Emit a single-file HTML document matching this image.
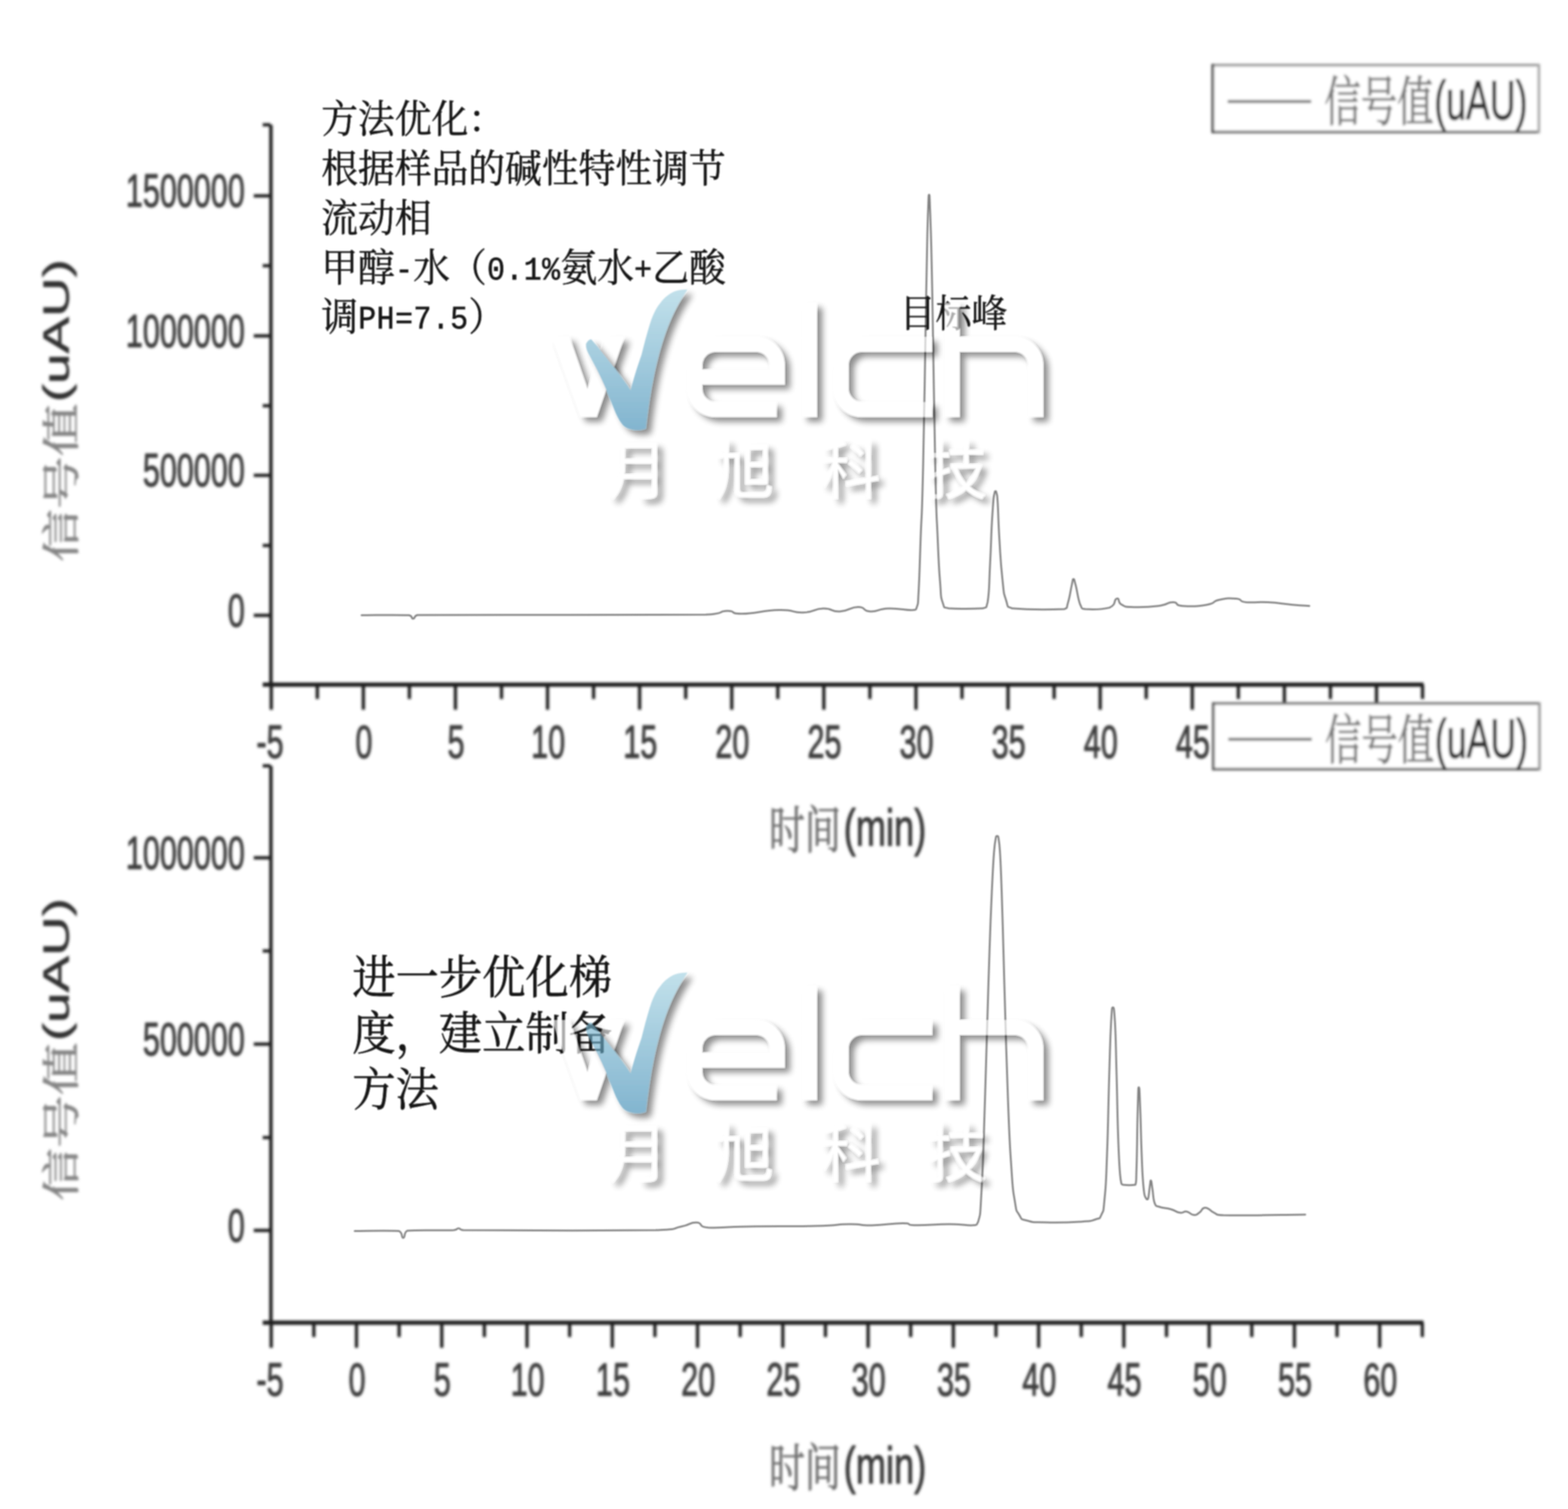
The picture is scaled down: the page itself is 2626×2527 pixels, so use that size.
<!DOCTYPE html><html><head><meta charset="utf-8"><title>chart</title><style>html,body{margin:0;padding:0;background:#fff}svg{display:block}</style></head><body><svg width="2626" height="2527" viewBox="0 0 2626 2527" role="img" aria-label="HPLC chromatograms"><desc>Two chromatograms: signal (uAU) versus time (min). Top: method optimisation, methanol-water (0.1% ammonia + acetic acid, pH=7.5), target peak near 31 min. Bottom: further optimised gradient for the preparative method, main peak near 37.5 min. Welch watermark.</desc><defs><filter id="bl1" x="-5%" y="-5%" width="110%" height="110%"><feGaussianBlur stdDeviation="2"/></filter><filter id="bl3" filterUnits="userSpaceOnUse" x="0" y="0" width="2626" height="2527"><feGaussianBlur stdDeviation="1.1"/></filter><filter id="bl2" x="-5%" y="-5%" width="110%" height="110%"><feGaussianBlur stdDeviation="0.9"/></filter><filter id="sh" x="-5%" y="-10%" width="112%" height="130%" color-interpolation-filters="sRGB"><feGaussianBlur in="SourceAlpha" stdDeviation="5.5" result="b"/><feOffset in="b" dx="9" dy="7.5" result="o"/><feComposite in="o" in2="SourceAlpha" operator="out" result="so"/><feComponentTransfer in="so" result="s"><feFuncA type="linear" slope="0.45"/></feComponentTransfer><feComponentTransfer in="SourceGraphic" result="g"><feFuncA type="linear" slope="0.64"/></feComponentTransfer><feMerge><feMergeNode in="s"/><feMergeNode in="g"/></feMerge></filter><filter id="sh2" x="-10%" y="-10%" width="130%" height="125%" color-interpolation-filters="sRGB"><feGaussianBlur in="SourceAlpha" stdDeviation="5.5" result="b"/><feOffset in="b" dx="9" dy="7.5" result="o"/><feComposite in="o" in2="SourceAlpha" operator="out" result="so"/><feComponentTransfer in="so" result="s"><feFuncA type="linear" slope="0.45"/></feComponentTransfer><feComponentTransfer in="SourceGraphic" result="g"><feFuncA type="linear" slope="0.64"/></feComponentTransfer><feMerge><feMergeNode in="s"/><feMergeNode in="g"/></feMerge></filter><linearGradient id="bl" x1="0" y1="0" x2="0" y2="1"><stop offset="0" stop-color="#a0d0e0"/><stop offset="1" stop-color="#3c8bb4"/></linearGradient><mask id="mv" maskUnits="userSpaceOnUse" x="0" y="0" width="2626" height="2527"><rect width="2626" height="2527" fill="#fff"/><path d="M981.5 1719.4 C985 1714 988 1711.5 990.5 1712.5 C1012 1738 1036 1768 1056.1 1797.4 C1062 1775 1068 1756 1074.5 1737.7 C1080 1716 1085 1697 1090.5 1680.3 C1095 1668 1100 1658 1106.6 1650.5 C1113 1642 1121 1636 1129.6 1632.1 C1137 1629.3 1144 1628.5 1151.4 1628.7 C1138 1648 1127 1669 1118.1 1691.8 C1108 1718 1101 1745 1095.1 1772.2 C1089 1801 1085 1831 1081.4 1861.7 C1076 1863.5 1071 1864.3 1065.3 1864 C1055 1863.5 1047 1860.5 1042.3 1854.8 C1036 1847 1032 1838 1028.6 1829.6 C1016 1796 1000 1762 985 1735 C982 1729 981 1724 981.5 1719.4 Z" fill="#000"/></mask></defs><rect width="2626" height="2527" fill="#fff"/><g filter="url(#bl1)"><rect x="450.9" y="209" width="5.6" height="937.5" fill="#1c1c1c"/><rect x="440" y="1143" width="1944" height="7" fill="#1c1c1c"/><rect x="425" y="325.3" width="28" height="5.4" fill="#1c1c1c"/><rect x="425" y="559.8" width="28" height="5.4" fill="#1c1c1c"/><rect x="425" y="793.3" width="28" height="5.4" fill="#1c1c1c"/><rect x="425" y="1027.8" width="28" height="5.4" fill="#1c1c1c"/><rect x="440" y="206.3" width="13" height="5.4" fill="#1c1c1c"/><rect x="440" y="442.3" width="13" height="5.4" fill="#1c1c1c"/><rect x="440" y="676.8" width="13" height="5.4" fill="#1c1c1c"/><rect x="440" y="910.8" width="13" height="5.4" fill="#1c1c1c"/><rect x="451.6" y="1146.5" width="5.4" height="42" fill="#1c1c1c"/><rect x="528.7" y="1146.5" width="5.4" height="24" fill="#1c1c1c"/><rect x="605.8" y="1146.5" width="5.4" height="42" fill="#1c1c1c"/><rect x="682.9" y="1146.5" width="5.4" height="24" fill="#1c1c1c"/><rect x="760" y="1146.5" width="5.4" height="42" fill="#1c1c1c"/><rect x="837.2" y="1146.5" width="5.4" height="24" fill="#1c1c1c"/><rect x="914.3" y="1146.5" width="5.4" height="42" fill="#1c1c1c"/><rect x="991.4" y="1146.5" width="5.4" height="24" fill="#1c1c1c"/><rect x="1068.5" y="1146.5" width="5.4" height="42" fill="#1c1c1c"/><rect x="1145.7" y="1146.5" width="5.4" height="24" fill="#1c1c1c"/><rect x="1222.8" y="1146.5" width="5.4" height="42" fill="#1c1c1c"/><rect x="1299.9" y="1146.5" width="5.4" height="24" fill="#1c1c1c"/><rect x="1377" y="1146.5" width="5.4" height="42" fill="#1c1c1c"/><rect x="1454.2" y="1146.5" width="5.4" height="24" fill="#1c1c1c"/><rect x="1531.3" y="1146.5" width="5.4" height="42" fill="#1c1c1c"/><rect x="1608.4" y="1146.5" width="5.4" height="24" fill="#1c1c1c"/><rect x="1685.5" y="1146.5" width="5.4" height="42" fill="#1c1c1c"/><rect x="1762.7" y="1146.5" width="5.4" height="24" fill="#1c1c1c"/><rect x="1839.8" y="1146.5" width="5.4" height="42" fill="#1c1c1c"/><rect x="1916.9" y="1146.5" width="5.4" height="24" fill="#1c1c1c"/><rect x="1994" y="1146.5" width="5.4" height="42" fill="#1c1c1c"/><rect x="2071.2" y="1146.5" width="5.4" height="24" fill="#1c1c1c"/><rect x="2148.3" y="1146.5" width="5.4" height="42" fill="#1c1c1c"/><rect x="2225.4" y="1146.5" width="5.4" height="24" fill="#1c1c1c"/><rect x="2302.6" y="1146.5" width="5.4" height="42" fill="#1c1c1c"/><rect x="2379.7" y="1146.5" width="5.4" height="24" fill="#1c1c1c"/><text transform="translate(410 346) scale(0.665 1)" font-family="'Liberation Sans', sans-serif" font-size="77" fill="#3d3d3d" text-anchor="end" stroke="#3d3d3d" stroke-width="1.6" stroke-linejoin="round">1500000</text><text transform="translate(410 580.5) scale(0.665 1)" font-family="'Liberation Sans', sans-serif" font-size="77" fill="#3d3d3d" text-anchor="end" stroke="#3d3d3d" stroke-width="1.6" stroke-linejoin="round">1000000</text><text transform="translate(410 814) scale(0.665 1)" font-family="'Liberation Sans', sans-serif" font-size="77" fill="#3d3d3d" text-anchor="end" stroke="#3d3d3d" stroke-width="1.6" stroke-linejoin="round">500000</text><text transform="translate(410 1048.5) scale(0.665 1)" font-family="'Liberation Sans', sans-serif" font-size="77" fill="#3d3d3d" text-anchor="end" stroke="#3d3d3d" stroke-width="1.6" stroke-linejoin="round">0</text><text transform="translate(452.2 1269) scale(0.665 1)" font-family="'Liberation Sans', sans-serif" font-size="77" fill="#3d3d3d" text-anchor="middle" stroke="#3d3d3d" stroke-width="1.6" stroke-linejoin="round">-5</text><text transform="translate(609.5 1269) scale(0.665 1)" font-family="'Liberation Sans', sans-serif" font-size="77" fill="#3d3d3d" text-anchor="middle" stroke="#3d3d3d" stroke-width="1.6" stroke-linejoin="round">0</text><text transform="translate(763.8 1269) scale(0.665 1)" font-family="'Liberation Sans', sans-serif" font-size="77" fill="#3d3d3d" text-anchor="middle" stroke="#3d3d3d" stroke-width="1.6" stroke-linejoin="round">5</text><text transform="translate(918 1269) scale(0.665 1)" font-family="'Liberation Sans', sans-serif" font-size="77" fill="#3d3d3d" text-anchor="middle" stroke="#3d3d3d" stroke-width="1.6" stroke-linejoin="round">10</text><text transform="translate(1072.2 1269) scale(0.665 1)" font-family="'Liberation Sans', sans-serif" font-size="77" fill="#3d3d3d" text-anchor="middle" stroke="#3d3d3d" stroke-width="1.6" stroke-linejoin="round">15</text><text transform="translate(1226.5 1269) scale(0.665 1)" font-family="'Liberation Sans', sans-serif" font-size="77" fill="#3d3d3d" text-anchor="middle" stroke="#3d3d3d" stroke-width="1.6" stroke-linejoin="round">20</text><text transform="translate(1380.8 1269) scale(0.665 1)" font-family="'Liberation Sans', sans-serif" font-size="77" fill="#3d3d3d" text-anchor="middle" stroke="#3d3d3d" stroke-width="1.6" stroke-linejoin="round">25</text><text transform="translate(1535 1269) scale(0.665 1)" font-family="'Liberation Sans', sans-serif" font-size="77" fill="#3d3d3d" text-anchor="middle" stroke="#3d3d3d" stroke-width="1.6" stroke-linejoin="round">30</text><text transform="translate(1689.2 1269) scale(0.665 1)" font-family="'Liberation Sans', sans-serif" font-size="77" fill="#3d3d3d" text-anchor="middle" stroke="#3d3d3d" stroke-width="1.6" stroke-linejoin="round">35</text><text transform="translate(1843.5 1269) scale(0.665 1)" font-family="'Liberation Sans', sans-serif" font-size="77" fill="#3d3d3d" text-anchor="middle" stroke="#3d3d3d" stroke-width="1.6" stroke-linejoin="round">40</text><text transform="translate(1997.8 1269) scale(0.665 1)" font-family="'Liberation Sans', sans-serif" font-size="77" fill="#3d3d3d" text-anchor="middle" stroke="#3d3d3d" stroke-width="1.6" stroke-linejoin="round">45</text><text transform="translate(1288 1420.7) scale(0.698 1)" font-family="'Liberation Serif', 'Noto Serif CJK SC', serif" font-size="86" fill="#6e6e6e" stroke="#6e6e6e" stroke-width="1.2" stroke-linejoin="round" text-anchor="start">时间</text><text transform="translate(1413 1416) scale(0.690 1)" font-family="'Liberation Sans', sans-serif" font-size="88" fill="#3a3a3a" text-anchor="start" stroke="#3a3a3a" stroke-width="1.6" stroke-linejoin="round">(min)</text><g transform="translate(123 941) rotate(-90)"><text transform="translate(0 1.8) scale(1.383 1)" font-family="'Liberation Serif', 'Noto Serif CJK SC', serif" font-size="64" fill="#858585" stroke="#858585" stroke-width="1" stroke-linejoin="round" text-anchor="start">信号值</text><text transform="translate(267.5 -8) scale(1.480 1)" font-family="'Liberation Sans', sans-serif" font-size="62" fill="#333" text-anchor="start" stroke="#333" stroke-width="0.9" stroke-linejoin="round">(uAU)</text></g><rect x="2029" y="107" width="550" height="116" fill="#fff"/><rect x="2029" y="106.8" width="550" height="4.5" fill="#9a9a9a"/><rect x="2029" y="218.8" width="550" height="4.5" fill="#707070"/><rect x="2574.8" y="107" width="4.5" height="116" fill="#a8a8a8"/><rect x="2028.8" y="107" width="4.5" height="116" fill="#4a4a4a"/><rect x="2056" y="167.7" width="140" height="4.6" fill="#676767"/><text transform="translate(2218 202.2) scale(0.678 1)" font-family="'Liberation Serif', 'Noto Serif CJK SC', serif" font-size="90" fill="#7c7c7c" stroke="#7c7c7c" stroke-width="1.5" stroke-linejoin="round" text-anchor="start">信号值</text><text transform="translate(2402 200) scale(0.650 1)" font-family="'Liberation Sans', sans-serif" font-size="92" fill="#333" text-anchor="start" stroke="#333" stroke-width="1.6" stroke-linejoin="round">(uAU)</text></g><g filter="url(#bl1)"><rect x="2030" y="1176" width="550" height="114" fill="#fff"/><rect x="2030" y="1175.8" width="550" height="4.5" fill="#7a7a7a"/><rect x="2030" y="1285.8" width="550" height="4.5" fill="#6a6a6a"/><rect x="2575.8" y="1176" width="4.5" height="114" fill="#9a9a9a"/><rect x="2029.8" y="1176" width="4.5" height="114" fill="#5a5a5a"/><rect x="2057" y="1235.7" width="140" height="4.6" fill="#676767"/><text transform="translate(2219 1271.2) scale(0.678 1)" font-family="'Liberation Serif', 'Noto Serif CJK SC', serif" font-size="90" fill="#7c7c7c" stroke="#7c7c7c" stroke-width="1.5" stroke-linejoin="round" text-anchor="start">信号值</text><text transform="translate(2403 1269) scale(0.650 1)" font-family="'Liberation Sans', sans-serif" font-size="92" fill="#333" text-anchor="start" stroke="#333" stroke-width="1.6" stroke-linejoin="round">(uAU)</text></g><g filter="url(#bl1)"><rect x="450.9" y="1282.5" width="5.6" height="932.5" fill="#1c1c1c"/><rect x="440" y="2211.5" width="1944" height="7" fill="#1c1c1c"/><rect x="425" y="1433.8" width="28" height="5.4" fill="#1c1c1c"/><rect x="425" y="1745.8" width="28" height="5.4" fill="#1c1c1c"/><rect x="425" y="2057.8" width="28" height="5.4" fill="#1c1c1c"/><rect x="440" y="1279.8" width="13" height="5.4" fill="#1c1c1c"/><rect x="440" y="1589.8" width="13" height="5.4" fill="#1c1c1c"/><rect x="440" y="1902.3" width="13" height="5.4" fill="#1c1c1c"/><rect x="451.5" y="2215" width="5.4" height="42" fill="#1c1c1c"/><rect x="522.9" y="2215" width="5.4" height="24" fill="#1c1c1c"/><rect x="594.3" y="2215" width="5.4" height="42" fill="#1c1c1c"/><rect x="665.7" y="2215" width="5.4" height="24" fill="#1c1c1c"/><rect x="737.1" y="2215" width="5.4" height="42" fill="#1c1c1c"/><rect x="808.5" y="2215" width="5.4" height="24" fill="#1c1c1c"/><rect x="879.9" y="2215" width="5.4" height="42" fill="#1c1c1c"/><rect x="951.3" y="2215" width="5.4" height="24" fill="#1c1c1c"/><rect x="1022.7" y="2215" width="5.4" height="42" fill="#1c1c1c"/><rect x="1094.1" y="2215" width="5.4" height="24" fill="#1c1c1c"/><rect x="1165.5" y="2215" width="5.4" height="42" fill="#1c1c1c"/><rect x="1236.9" y="2215" width="5.4" height="24" fill="#1c1c1c"/><rect x="1308.3" y="2215" width="5.4" height="42" fill="#1c1c1c"/><rect x="1379.7" y="2215" width="5.4" height="24" fill="#1c1c1c"/><rect x="1451.1" y="2215" width="5.4" height="42" fill="#1c1c1c"/><rect x="1522.5" y="2215" width="5.4" height="24" fill="#1c1c1c"/><rect x="1593.9" y="2215" width="5.4" height="42" fill="#1c1c1c"/><rect x="1665.3" y="2215" width="5.4" height="24" fill="#1c1c1c"/><rect x="1736.7" y="2215" width="5.4" height="42" fill="#1c1c1c"/><rect x="1808.1" y="2215" width="5.4" height="24" fill="#1c1c1c"/><rect x="1879.5" y="2215" width="5.4" height="42" fill="#1c1c1c"/><rect x="1950.9" y="2215" width="5.4" height="24" fill="#1c1c1c"/><rect x="2022.3" y="2215" width="5.4" height="42" fill="#1c1c1c"/><rect x="2093.7" y="2215" width="5.4" height="24" fill="#1c1c1c"/><rect x="2165.1" y="2215" width="5.4" height="42" fill="#1c1c1c"/><rect x="2236.5" y="2215" width="5.4" height="24" fill="#1c1c1c"/><rect x="2307.9" y="2215" width="5.4" height="42" fill="#1c1c1c"/><rect x="2379.3" y="2215" width="5.4" height="24" fill="#1c1c1c"/><text transform="translate(410 1454.5) scale(0.665 1)" font-family="'Liberation Sans', sans-serif" font-size="77" fill="#3d3d3d" text-anchor="end" stroke="#3d3d3d" stroke-width="1.6" stroke-linejoin="round">1000000</text><text transform="translate(410 1766.5) scale(0.665 1)" font-family="'Liberation Sans', sans-serif" font-size="77" fill="#3d3d3d" text-anchor="end" stroke="#3d3d3d" stroke-width="1.6" stroke-linejoin="round">500000</text><text transform="translate(410 2078.5) scale(0.665 1)" font-family="'Liberation Sans', sans-serif" font-size="77" fill="#3d3d3d" text-anchor="end" stroke="#3d3d3d" stroke-width="1.6" stroke-linejoin="round">0</text><text transform="translate(452.2 2337) scale(0.665 1)" font-family="'Liberation Sans', sans-serif" font-size="77" fill="#3d3d3d" text-anchor="middle" stroke="#3d3d3d" stroke-width="1.6" stroke-linejoin="round">-5</text><text transform="translate(598 2337) scale(0.665 1)" font-family="'Liberation Sans', sans-serif" font-size="77" fill="#3d3d3d" text-anchor="middle" stroke="#3d3d3d" stroke-width="1.6" stroke-linejoin="round">0</text><text transform="translate(740.8 2337) scale(0.665 1)" font-family="'Liberation Sans', sans-serif" font-size="77" fill="#3d3d3d" text-anchor="middle" stroke="#3d3d3d" stroke-width="1.6" stroke-linejoin="round">5</text><text transform="translate(883.6 2337) scale(0.665 1)" font-family="'Liberation Sans', sans-serif" font-size="77" fill="#3d3d3d" text-anchor="middle" stroke="#3d3d3d" stroke-width="1.6" stroke-linejoin="round">10</text><text transform="translate(1026.4 2337) scale(0.665 1)" font-family="'Liberation Sans', sans-serif" font-size="77" fill="#3d3d3d" text-anchor="middle" stroke="#3d3d3d" stroke-width="1.6" stroke-linejoin="round">15</text><text transform="translate(1169.2 2337) scale(0.665 1)" font-family="'Liberation Sans', sans-serif" font-size="77" fill="#3d3d3d" text-anchor="middle" stroke="#3d3d3d" stroke-width="1.6" stroke-linejoin="round">20</text><text transform="translate(1312 2337) scale(0.665 1)" font-family="'Liberation Sans', sans-serif" font-size="77" fill="#3d3d3d" text-anchor="middle" stroke="#3d3d3d" stroke-width="1.6" stroke-linejoin="round">25</text><text transform="translate(1454.8 2337) scale(0.665 1)" font-family="'Liberation Sans', sans-serif" font-size="77" fill="#3d3d3d" text-anchor="middle" stroke="#3d3d3d" stroke-width="1.6" stroke-linejoin="round">30</text><text transform="translate(1597.6 2337) scale(0.665 1)" font-family="'Liberation Sans', sans-serif" font-size="77" fill="#3d3d3d" text-anchor="middle" stroke="#3d3d3d" stroke-width="1.6" stroke-linejoin="round">35</text><text transform="translate(1740.4 2337) scale(0.665 1)" font-family="'Liberation Sans', sans-serif" font-size="77" fill="#3d3d3d" text-anchor="middle" stroke="#3d3d3d" stroke-width="1.6" stroke-linejoin="round">40</text><text transform="translate(1883.2 2337) scale(0.665 1)" font-family="'Liberation Sans', sans-serif" font-size="77" fill="#3d3d3d" text-anchor="middle" stroke="#3d3d3d" stroke-width="1.6" stroke-linejoin="round">45</text><text transform="translate(2026 2337) scale(0.665 1)" font-family="'Liberation Sans', sans-serif" font-size="77" fill="#3d3d3d" text-anchor="middle" stroke="#3d3d3d" stroke-width="1.6" stroke-linejoin="round">50</text><text transform="translate(2168.8 2337) scale(0.665 1)" font-family="'Liberation Sans', sans-serif" font-size="77" fill="#3d3d3d" text-anchor="middle" stroke="#3d3d3d" stroke-width="1.6" stroke-linejoin="round">55</text><text transform="translate(2311.6 2337) scale(0.665 1)" font-family="'Liberation Sans', sans-serif" font-size="77" fill="#3d3d3d" text-anchor="middle" stroke="#3d3d3d" stroke-width="1.6" stroke-linejoin="round">60</text><text transform="translate(1288 2488.7) scale(0.698 1)" font-family="'Liberation Serif', 'Noto Serif CJK SC', serif" font-size="86" fill="#6e6e6e" stroke="#6e6e6e" stroke-width="1.2" stroke-linejoin="round" text-anchor="start">时间</text><text transform="translate(1413 2484) scale(0.690 1)" font-family="'Liberation Sans', sans-serif" font-size="88" fill="#3a3a3a" text-anchor="start" stroke="#3a3a3a" stroke-width="1.6" stroke-linejoin="round">(min)</text><g transform="translate(123 2011) rotate(-90)"><text transform="translate(0 1.8) scale(1.383 1)" font-family="'Liberation Serif', 'Noto Serif CJK SC', serif" font-size="64" fill="#858585" stroke="#858585" stroke-width="1" stroke-linejoin="round" text-anchor="start">信号值</text><text transform="translate(267.5 -8) scale(1.480 1)" font-family="'Liberation Sans', sans-serif" font-size="62" fill="#333" text-anchor="start" stroke="#333" stroke-width="0.9" stroke-linejoin="round">(uAU)</text></g></g><g filter="url(#bl2)"><path d="M605.5 1030.3 C627.8 1030.3 660.8 1029.3 685 1030.3 C692 1031.9 688.1 1036.1 692 1036 C695.9 1035.9 692 1031.9 699 1030 C836.2 1028.3 1036.7 1031 1182 1029.3 C1217.8 1027.3 1200.7 1023.4 1217.8 1023 C1234.9 1022.6 1218.7 1028.2 1243 1027.8 C1267.3 1027.4 1275.9 1022.2 1304.5 1021.6 C1333.1 1021 1324.3 1026.4 1345 1025.7 C1365.7 1025 1361.3 1019.5 1378.5 1019 C1395.7 1018.5 1390.1 1024.7 1406.5 1024 C1422.9 1023.3 1422.7 1016.5 1437 1016.5 C1451.3 1016.5 1443.2 1023.3 1457.5 1024 C1471.8 1024.7 1468 1019.7 1488 1019 C1508 1018.3 1515.6 1022.4 1529 1021.6 C1535.7 1020.8 1533 1022.6 1535.7 1016 C1538.4 1007.2 1536.8 1017 1538.5 990 C1540.2 958.2 1539.7 961.2 1541.8 902.4 C1543.9 843.6 1543.4 892.7 1546 780 C1548.6 667.3 1548.8 617.6 1551 500 C1553.2 382.4 1552.6 408.7 1554 360 C1555.4 325 1554.9 326 1556 326 C1557.1 326 1556.5 325 1558 360 C1559.5 408.7 1559.2 382.4 1561.5 500 C1563.8 617.6 1563.8 667.4 1566.3 780 C1568.8 892.6 1568.1 847.1 1570.4 902 C1572.7 956.9 1572.2 946.2 1574.5 976 C1576.8 1005.8 1574.6 996.6 1578.6 1008.6 C1582.6 1019.8 1578.6 1015.9 1588.8 1018.8 C1607.7 1019.8 1627.7 1019.8 1646 1018.8 C1654 1015.9 1650.6 1019.8 1654 1008.6 C1657.4 987.4 1656 984.2 1658.2 943 C1660.4 901.8 1659.7 895.2 1662 861.6 C1664.3 828 1664.1 831.7 1666.3 822.9 C1668.5 821.9 1667.9 821.9 1670 830 C1672.1 852.3 1671.3 863.8 1673.7 902.4 C1676.1 941 1675.5 939.2 1678.6 967.8 C1681.7 996.4 1680.1 990.2 1684.7 1004.5 C1689.3 1018.8 1684.7 1014.5 1694.9 1018.8 C1722.3 1021 1756.4 1021 1782.7 1020 C1788.8 1017.1 1785.4 1019.8 1788.8 1008.6 C1792.2 997.4 1792.4 990.9 1794.9 980 C1797.4 969.1 1796 969.8 1797.8 969.8 C1799.6 969.8 1798.3 968.8 1801.5 980 C1804.7 992 1804.8 1001.5 1809.2 1012.7 C1813.6 1021 1809.2 1018.6 1817.3 1020 C1831 1021 1843.1 1021 1858 1017.6 C1870.4 1012.7 1864.6 1003.8 1870.4 1002.4 C1876.2 1001.4 1870.6 1008.7 1878.6 1012.7 C1886.6 1016.7 1881.9 1016.1 1899 1016.7 C1916.1 1017.3 1921.5 1017 1939.8 1014.7 C1958.1 1012.4 1952.9 1008.6 1964.3 1008.6 C1975.7 1008.6 1964.6 1013.6 1980.6 1014.7 C1996.6 1015.7 2004.3 1015.6 2021.4 1012.7 C2038.5 1009.8 2028.1 1007.4 2041.8 1004.5 C2055.5 1001.6 2057.8 1001.4 2070.4 1002.4 C2083 1003.5 2072 1006.9 2086.7 1008.6 C2101.4 1009.6 2101.3 1007.6 2123 1008.6 C2144.7 1009.7 2144.7 1011 2164.3 1012.7 C2183.9 1014.4 2184.9 1014.1 2192.9 1014.7" fill="none" stroke="#808080" stroke-width="3.0" stroke-linejoin="round" stroke-linecap="round"/><path d="M594 2061.4 C614.7 2061.4 645.2 2060.4 668 2061.4 C675.4 2064.6 671.5 2073.1 675.4 2073 C679.3 2072.9 675.4 2064.6 682 2061 C705.7 2059 735.9 2061.1 760 2060 C768 2058.9 763.5 2057 768 2057 C772.5 2057 768 2059.2 776 2060 C869.5 2060.8 999.8 2061 1102 2060 C1141 2058.3 1123 2057.6 1141 2054 C1159 2050.4 1153.8 2046.8 1166.4 2047.3 C1179 2047.8 1166.4 2053.9 1186 2055.8 C1210.4 2056.8 1203.1 2054.8 1253.4 2054 C1303.7 2053.2 1318.5 2054.1 1365.6 2053 C1412.7 2051.9 1395.3 2050.3 1421.7 2050 C1448.1 2049.7 1434.9 2052.4 1460 2052 C1485.1 2051.6 1490.8 2048.6 1511.5 2048.5 C1532.2 2048.4 1512 2051.4 1534 2051.8 C1556 2052.2 1563.3 2050 1590 2050 C1616.7 2050 1615.9 2052.8 1629.4 2051.8 C1638.2 2050.7 1634.1 2052.8 1638.2 2046 C1642.3 2028.9 1640.8 2047 1644 1990.7 C1647.2 1932.5 1646.5 1934.2 1649.7 1838 C1652.9 1741.8 1652.2 1743.2 1655.4 1647 C1658.6 1550.8 1658 1559.7 1661 1494.5 C1664 1429.3 1663.5 1440.5 1666 1414 C1668.5 1399 1667.8 1400 1670 1400 C1672.2 1400 1671.6 1399 1673.7 1414 C1675.8 1440.5 1675.3 1429.3 1677.6 1494.5 C1679.9 1559.7 1679.1 1550.8 1682 1647 C1684.9 1743.2 1684.8 1752.5 1688 1838 C1691.2 1923.5 1690.4 1904.4 1693.6 1952.5 C1696.8 2000.6 1695.5 1986.8 1699.3 2009.8 C1703.1 2032.8 1701.2 2025 1707 2034.6 C1712.8 2044.2 1707.7 2040.5 1720 2044 C1732.3 2047.5 1726.4 2046.4 1751 2047 C1775.6 2047.6 1784.5 2047.4 1808 2046 C1831.5 2044.6 1824.6 2045.2 1834.8 2042 C1844.4 2038.8 1840.1 2043 1844.4 2034.6 C1848.7 2024.5 1847.3 2034.3 1850 2006 C1852.7 1977.7 1851.8 1991.1 1854 1933.4 C1856.2 1875.7 1855.8 1862 1857.7 1800 C1859.6 1738 1859.1 1743.6 1860.8 1712 C1862.5 1686 1862 1687 1863.8 1687 C1865.6 1687 1865.6 1686 1867.3 1712 C1869 1743.6 1868.4 1743.4 1870 1800 C1871.6 1856.6 1871.1 1864.9 1873 1914 C1874.9 1963.1 1874.7 1955.8 1876.8 1975.4 C1878.9 1985 1876.8 1981.6 1880.6 1984 C1887.5 1985 1895.2 1985 1901.6 1984 C1903.5 1975.2 1902.4 1985 1903.5 1952.5 C1904.6 1916.9 1904.3 1893.9 1905.4 1857 C1906.5 1820.1 1906.1 1820.8 1907.3 1820.8 C1908.5 1820.8 1908.3 1825.5 1909.6 1857 C1910.9 1888.5 1910.5 1897 1912 1933.4 C1913.5 1969.8 1913.1 1966.7 1915 1987 C1916.9 2007 1916.7 2000.1 1918.8 2006 C1920.9 2009 1920.6 2009 1922.5 2008 C1924.4 2002.7 1924.2 1995.7 1925.6 1987 C1927 1978.3 1926.4 1976 1927.6 1977 C1928.8 1978 1928.2 1979.9 1930 1990.7 C1931.8 2001.5 1930.7 2007 1934 2015.5 C1937.3 2022 1934.2 2018.3 1941.7 2021 C1949.2 2023.7 1951.2 2022.3 1960.8 2025 C1970.4 2027.7 1968.5 2029.7 1976 2030.8 C1983.5 2031.8 1981.1 2028 1987.5 2029 C1993.9 2030.1 1993.1 2034.1 1999 2034.6 C2004.9 2035.1 2003.7 2034 2008.5 2030.8 C2013.3 2027.6 2011.7 2024.8 2016 2023 C2020.3 2022 2018.9 2022.1 2023.7 2024.3 C2028.5 2026.5 2026.4 2027.8 2033.3 2030.8 C2040.2 2033.8 2033.3 2034.1 2048.5 2035 C2091.3 2035.9 2147.5 2034.3 2186 2034" fill="none" stroke="#808080" stroke-width="3.0" stroke-linejoin="round" stroke-linecap="round"/></g><g filter="url(#bl2)"><text transform="translate(538 222.3) scale(0.943 1)" font-family="'Liberation Serif', 'Noto Serif CJK SC', serif" font-size="65.3" fill="#161616" stroke="#161616" stroke-width="0.8" stroke-linejoin="round">方法优化：</text><text transform="translate(538 305.3) scale(0.943 1)" font-family="'Liberation Serif', 'Noto Serif CJK SC', serif" font-size="65.3" fill="#161616" stroke="#161616" stroke-width="0.8" stroke-linejoin="round">根据样品的碱性特性调节</text><text transform="translate(538 388.3) scale(0.943 1)" font-family="'Liberation Serif', 'Noto Serif CJK SC', serif" font-size="65.3" fill="#161616" stroke="#161616" stroke-width="0.8" stroke-linejoin="round">流动相</text><text transform="translate(538 471.3) scale(0.943 1)" font-family="'Liberation Serif', 'Noto Serif CJK SC', serif" font-size="65.3" fill="#161616" stroke="#161616" stroke-width="0.8" stroke-linejoin="round">甲醇</text><text font-family="'Liberation Mono', monospace" font-size="53" fill="#161616" stroke="#161616" stroke-width="0.9" text-anchor="middle" transform="translate(676.6 468.4) scale(0.94 1)">-</text><text transform="translate(692 471.3) scale(0.943 1)" font-family="'Liberation Serif', 'Noto Serif CJK SC', serif" font-size="65.3" fill="#161616" stroke="#161616" stroke-width="0.8" stroke-linejoin="round">水（</text><text font-family="'Liberation Mono', monospace" font-size="53" fill="#161616" stroke="#161616" stroke-width="0.9" text-anchor="middle" transform="translate(830.6 468.4) scale(0.94 1)">0</text><text font-family="'Liberation Mono', monospace" font-size="53" fill="#161616" stroke="#161616" stroke-width="0.9" text-anchor="middle" transform="translate(861.4 468.4) scale(0.94 1)">.</text><text font-family="'Liberation Mono', monospace" font-size="53" fill="#161616" stroke="#161616" stroke-width="0.9" text-anchor="middle" transform="translate(892.2 468.4) scale(0.94 1)">1</text><text font-family="'Liberation Mono', monospace" font-size="53" fill="#161616" stroke="#161616" stroke-width="0.9" text-anchor="middle" transform="translate(923 468.4) scale(0.94 1)">%</text><text transform="translate(938.4 471.3) scale(0.943 1)" font-family="'Liberation Serif', 'Noto Serif CJK SC', serif" font-size="65.3" fill="#161616" stroke="#161616" stroke-width="0.8" stroke-linejoin="round">氨水</text><text font-family="'Liberation Mono', monospace" font-size="53" fill="#161616" stroke="#161616" stroke-width="0.9" text-anchor="middle" transform="translate(1077 468.4) scale(0.94 1)">+</text><text transform="translate(1092.4 471.3) scale(0.943 1)" font-family="'Liberation Serif', 'Noto Serif CJK SC', serif" font-size="65.3" fill="#161616" stroke="#161616" stroke-width="0.8" stroke-linejoin="round">乙酸</text><text transform="translate(538 553.3) scale(0.943 1)" font-family="'Liberation Serif', 'Noto Serif CJK SC', serif" font-size="65.3" fill="#161616" stroke="#161616" stroke-width="0.8" stroke-linejoin="round">调</text><text font-family="'Liberation Mono', monospace" font-size="53" fill="#161616" stroke="#161616" stroke-width="0.9" text-anchor="middle" transform="translate(615 550.4) scale(0.94 1)">P</text><text font-family="'Liberation Mono', monospace" font-size="53" fill="#161616" stroke="#161616" stroke-width="0.9" text-anchor="middle" transform="translate(645.8 550.4) scale(0.94 1)">H</text><text font-family="'Liberation Mono', monospace" font-size="53" fill="#161616" stroke="#161616" stroke-width="0.9" text-anchor="middle" transform="translate(676.6 550.4) scale(0.94 1)">=</text><text font-family="'Liberation Mono', monospace" font-size="53" fill="#161616" stroke="#161616" stroke-width="0.9" text-anchor="middle" transform="translate(707.4 550.4) scale(0.94 1)">7</text><text font-family="'Liberation Mono', monospace" font-size="53" fill="#161616" stroke="#161616" stroke-width="0.9" text-anchor="middle" transform="translate(738.2 550.4) scale(0.94 1)">.</text><text font-family="'Liberation Mono', monospace" font-size="53" fill="#161616" stroke="#161616" stroke-width="0.9" text-anchor="middle" transform="translate(769 550.4) scale(0.94 1)">5</text><text transform="translate(784.4 553.3) scale(0.943 1)" font-family="'Liberation Serif', 'Noto Serif CJK SC', serif" font-size="65.3" fill="#161616" stroke="#161616" stroke-width="0.8" stroke-linejoin="round">）</text><text transform="translate(1507 546.9) scale(0.943 1)" font-family="'Liberation Serif', 'Noto Serif CJK SC', serif" font-size="63.6" fill="#161616" stroke="#161616" stroke-width="0.8" stroke-linejoin="round">目标峰</text><text transform="translate(590 1664.1) scale(0.943 1)" font-family="'Liberation Serif', 'Noto Serif CJK SC', serif" font-size="76.9" fill="#161616" stroke="#161616" stroke-width="0.9" stroke-linejoin="round">进一步优化梯</text><text transform="translate(590 1758.1) scale(0.943 1)" font-family="'Liberation Serif', 'Noto Serif CJK SC', serif" font-size="76.9" fill="#161616" stroke="#161616" stroke-width="0.9" stroke-linejoin="round">度，建立制备</text><text transform="translate(590 1852.1) scale(0.943 1)" font-family="'Liberation Serif', 'Noto Serif CJK SC', serif" font-size="76.9" fill="#161616" stroke="#161616" stroke-width="0.9" stroke-linejoin="round">方法</text></g><g filter="url(#bl3)"><g transform="translate(0 -1144)"><g mask="url(#mv)"><g filter="url(#sh)"><path d="M923.9 1708 L953.6 1708 L983.8 1795.6 L1014 1708 L1045.6 1708 L999.2 1842.3 L972.1 1842.3 Z" fill="#fff"/><path d="M1300.5 1829.8 H1198.5 A35.0 35.0 0 0 1 1163.5 1794.8 V1755.5 A35.0 35.0 0 0 1 1198.5 1720.5 H1266.5 A35.0 35.0 0 0 1 1301.5 1755.5 V1775.2 H1169.5 M1355.6 1651 V1842.3 M1561 1720.5 H1443.5 A35.0 35.0 0 0 0 1408.5 1755.5 V1794.8 A35.0 35.0 0 0 0 1443.5 1829.8 H1561 M1594.4 1651 V1842.3 M1594.4 1720.5 H1699.5 A35.0 35.0 0 0 1 1734.5 1755.5 V1842.3" fill="none" stroke="#fff" stroke-width="25"/><g fill="#fff" font-family="'Liberation Sans', 'Noto Sans CJK SC', sans-serif" font-size="106"><text transform="translate(1018 1970.3) scale(0.943 1)">月</text><text transform="translate(1196.3 1970.3) scale(0.943 1)">旭</text><text transform="translate(1374.6 1970.3) scale(0.943 1)">科</text><text transform="translate(1552.9 1970.3) scale(0.943 1)">技</text></g></g></g><path d="M981.5 1719.4 C985 1714 988 1711.5 990.5 1712.5 C1012 1738 1036 1768 1056.1 1797.4 C1062 1775 1068 1756 1074.5 1737.7 C1080 1716 1085 1697 1090.5 1680.3 C1095 1668 1100 1658 1106.6 1650.5 C1113 1642 1121 1636 1129.6 1632.1 C1137 1629.3 1144 1628.5 1151.4 1628.7 C1138 1648 1127 1669 1118.1 1691.8 C1108 1718 1101 1745 1095.1 1772.2 C1089 1801 1085 1831 1081.4 1861.7 C1076 1863.5 1071 1864.3 1065.3 1864 C1055 1863.5 1047 1860.5 1042.3 1854.8 C1036 1847 1032 1838 1028.6 1829.6 C1016 1796 1000 1762 985 1735 C982 1729 981 1724 981.5 1719.4 Z" fill="url(#bl)" filter="url(#sh2)"/></g><g mask="url(#mv)"><g filter="url(#sh)"><path d="M923.9 1708 L953.6 1708 L983.8 1795.6 L1014 1708 L1045.6 1708 L999.2 1842.3 L972.1 1842.3 Z" fill="#fff"/><path d="M1300.5 1829.8 H1198.5 A35.0 35.0 0 0 1 1163.5 1794.8 V1755.5 A35.0 35.0 0 0 1 1198.5 1720.5 H1266.5 A35.0 35.0 0 0 1 1301.5 1755.5 V1775.2 H1169.5 M1355.6 1651 V1842.3 M1561 1720.5 H1443.5 A35.0 35.0 0 0 0 1408.5 1755.5 V1794.8 A35.0 35.0 0 0 0 1443.5 1829.8 H1561 M1594.4 1651 V1842.3 M1594.4 1720.5 H1699.5 A35.0 35.0 0 0 1 1734.5 1755.5 V1842.3" fill="none" stroke="#fff" stroke-width="25"/><g fill="#fff" font-family="'Liberation Sans', 'Noto Sans CJK SC', sans-serif" font-size="106"><text transform="translate(1018 1970.3) scale(0.943 1)">月</text><text transform="translate(1196.3 1970.3) scale(0.943 1)">旭</text><text transform="translate(1374.6 1970.3) scale(0.943 1)">科</text><text transform="translate(1552.9 1970.3) scale(0.943 1)">技</text></g></g></g><path d="M981.5 1719.4 C985 1714 988 1711.5 990.5 1712.5 C1012 1738 1036 1768 1056.1 1797.4 C1062 1775 1068 1756 1074.5 1737.7 C1080 1716 1085 1697 1090.5 1680.3 C1095 1668 1100 1658 1106.6 1650.5 C1113 1642 1121 1636 1129.6 1632.1 C1137 1629.3 1144 1628.5 1151.4 1628.7 C1138 1648 1127 1669 1118.1 1691.8 C1108 1718 1101 1745 1095.1 1772.2 C1089 1801 1085 1831 1081.4 1861.7 C1076 1863.5 1071 1864.3 1065.3 1864 C1055 1863.5 1047 1860.5 1042.3 1854.8 C1036 1847 1032 1838 1028.6 1829.6 C1016 1796 1000 1762 985 1735 C982 1729 981 1724 981.5 1719.4 Z" fill="url(#bl)" filter="url(#sh2)"/></g></svg></body></html>
